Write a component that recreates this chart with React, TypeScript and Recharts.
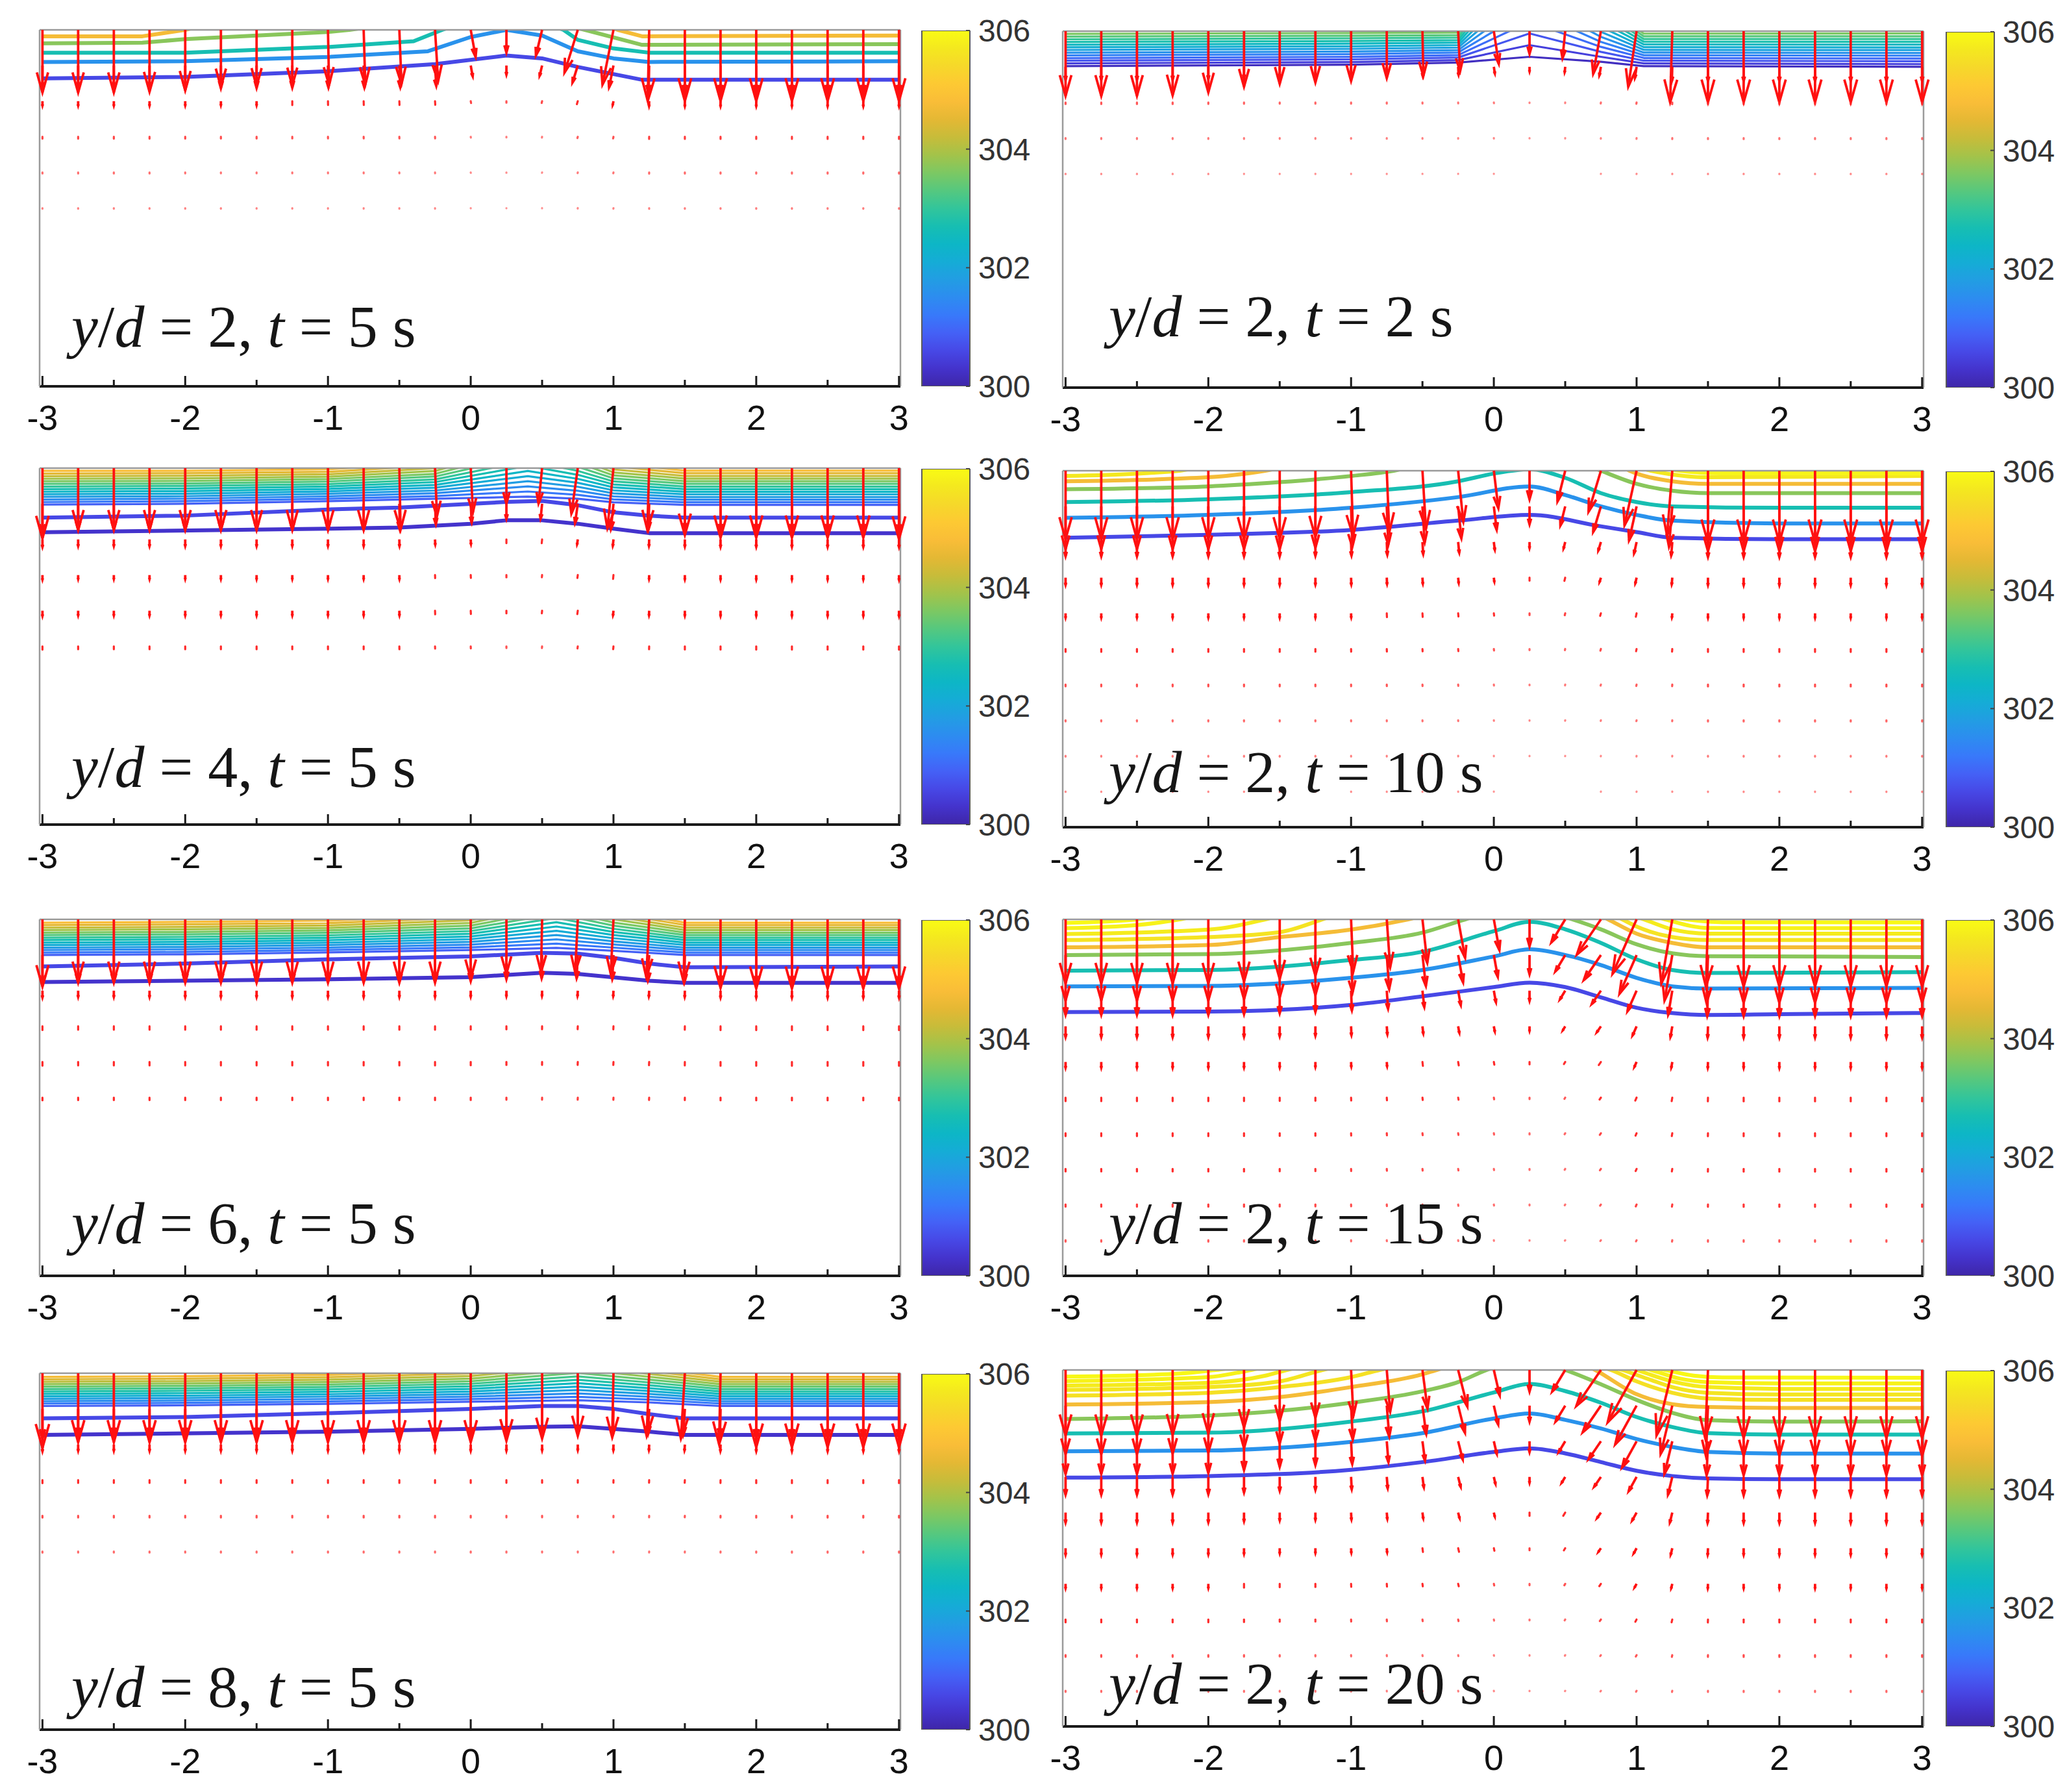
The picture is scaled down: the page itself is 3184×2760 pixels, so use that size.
import React from 'react';
import { ComposedChart, BarChart, Bar, Line, Scatter, XAxis, YAxis } from 'recharts';

// ---------- axes / ticks ----------
const X_TICKS = [-3, -2.5, -2, -1.5, -1, -0.5, 0, 0.5, 1, 1.5, 2, 2.5, 3];
const DEPTH_TICKS = [0.5, 1, 1.5, 2];
const CB_TICKS = [300, 302, 304, 306];
const CB_RANGE = [300, 306];

// quiver grid
const QX = [-3, -2.75, -2.5, -2.25, -2, -1.75, -1.5, -1.25, -1, -0.75, -0.5, -0.25, 0, 0.25, 0.5, 0.75, 1, 1.25, 1.5, 1.75, 2, 2.25, 2.5, 2.75, 3];
const QD = [0, 0.25, 0.5, 0.75, 1, 1.25, 1.5, 1.75, 2, 2.25];

// ---------- panel 1 : y/d = 2, t = 5 s ----------
const P1_LEVELS = [300.6, 301.6, 302.7, 303.7, 304.75];
const P1_LINES = [
  [-3, .34, -2, .33, -1, .29, -.25, .24, .25, .18, .5, .2, .75, .26, 1.2, .35, 3, .35],
  [-3, .225, -2, .22, -1, .19, -.3, .15, 0, .05, .25, 0, .5, .04, .75, .15, 1, .2, 1.25, .225, 3, .22],
  [-3, .16, -2, .16, -1, .12, -.4, .08, -.2, 0, .25, -.15, .65, 0, .75, .07, 1, .13, 1.25, .16, 3, .16],
  [-3, .095, -2.3, .09, -2, .065, -1, .015, -.85, 0, -.5, -.05, .6, -.05, .8, 0, 1.2, .105, 3, .1],
  [-3, .045, -2.3, .045, -2, 0, -1.8, -.05, .9, -.05, 1.03, 0, 1.2, .045, 3, .04],
];
const P1_ROW = [0.5, 0.2, 0.035, 0.015, 0.008, 0.005, 0, 0, 0, 0];
const P1_COL = [0.88, 0.88, 0.88, 0.87, 0.85, 0.8, 0.79, 0.78, 0.77, 0.77, 0.76, 0.72, 0.38, 0.32, 0.36, 0.6, 0.77, 1, 1, 1, 1, 1, 1, 1, 1];
const P1_TILT = [0, 0, 0, 0, 0, 0, 0, 0, 0.02, 0.03, 0.04, 0.06, 0.18, 0, -0.24, -0.31, -0.2, -0.02, 0, 0, 0, 0, 0, 0, 0];

// ---------- panel 2 : y/d = 2, t = 2 s ----------
const P2_LEVELS = [300.2, 300.48, 300.77, 301.05, 301.33, 301.62, 301.9, 302.18, 302.47, 302.75, 303.03, 303.32, 303.6];
const P2_KX = [-3, -1, -0.25, 0.25, 0.75, 1.05, 3];
const P2_BAND = [
  [.245, .235, .22, .18, .215, .245, .25],
  [.226, .217, .203, .098, .18, .226, .231],
  [.207, .198, .185, .016, .145, .207, .211],
  [.189, .18, .168, -.066, .11, .188, .192],
  [.17, .161, .15, -.148, .075, .169, .172],
  [.151, .143, .133, -.23, .04, .15, .153],
  [.132, .124, .115, -.31, .005, .131, .133],
  [.113, .106, .098, -.39, -.03, .112, .114],
  [.095, .087, .08, -.47, -.065, .093, .094],
  [.076, .069, .063, -.55, -.1, .074, .075],
  [.057, .05, .045, -.64, -.135, .055, .055],
  [.038, .032, .028, -.72, -.17, .036, .036],
  [.019, .013, .01, -.8, -.205, .017, .016],
];
const P2_ROW = [0.5, 0.1, 0.012, 0.007, 0.003, 0, 0, 0, 0, 0];
const P2_COL = [0.91, 0.91, 0.91, 0.9, 0.86, 0.78, 0.74, 0.72, 0.7, 0.66, 0.63, 0.56, 0.46, 0.32, 0.38, 0.6, 0.78, 1, 1, 1, 1, 1, 1, 1, 1];
const P2_TILT = [0, 0, 0, 0, 0, 0, 0, 0, 0, 0, 0.02, 0.05, 0.15, 0, -0.1, -0.18, -0.15, -0.03, 0, 0, 0, 0, 0, 0, 0];

// ---------- panel 3 : y/d = 4, t = 5 s ----------
const P3_DEEP_LEVELS = [300.3, 300.6];
const P3_DEEP = [
  [-3, .45, -1, .425, -.5, .417, 0, .39, .25, .366, .5, .366, .75, .39, 1, .425, 1.25, .456, 3, .456],
  [-3, .347, -2, .333, -1, .29, -.5, .277, .25, .237, .5, .23, .75, .26, 1, .31, 1.25, .334, 1.5, .347, 3, .347],
];
const P3_LEVELS = [300.9, 301.2, 301.5, 301.8, 302.1, 302.4, 302.7, 303.0, 303.3, 303.6, 303.9, 304.2, 304.5, 304.8];
const P3_KX = [-3, -2, -1, -0.25, 0.4, 0.75, 1.0, 1.5, 3];
const P3_BAND = [
  [.256, .25, .232, .215, .2, .215, .24, .258, .258],
  [.238, .232, .215, .196, .164, .187, .219, .24, .24],
  [.22, .214, .198, .176, .128, .159, .198, .221, .221],
  [.201, .197, .18, .157, .092, .131, .177, .203, .203],
  [.183, .179, .163, .137, .056, .103, .156, .184, .184],
  [.165, .161, .146, .118, .02, .075, .135, .166, .166],
  [.147, .143, .129, .098, -.016, .047, .114, .147, .147],
  [.129, .125, .112, .079, -.052, .019, .093, .129, .129],
  [.11, .108, .094, .059, -.088, -.009, .072, .11, .11],
  [.092, .09, .077, .04, -.124, -.037, .051, .092, .092],
  [.074, .072, .06, .02, -.16, -.065, .03, .073, .073],
  [.056, .054, .043, .001, -.196, -.093, .009, .055, .055],
  [.038, .036, .026, -.019, -.232, -.121, -.012, .036, .036],
  [.019, .019, .008, -.038, -.268, -.149, -.033, .018, .018],
];
const P3_ROW = [0.47, 0.2, 0.05, 0.03, 0.035, 0.022, 0, 0, 0, 0];
const P3_COL = [1.05, 0.92, 0.92, 0.92, 0.92, 0.92, 0.92, 0.92, 0.92, 0.92, 0.92, 0.72, 0.66, 0.53, 0.53, 0.68, 0.9, 0.92, 1, 1.04, 1.04, 1.04, 1.04, 1.04, 1.06];
const P3_TILT = [0, 0, 0, 0, 0, 0, 0, 0, 0, 0, 0.02, 0.04, 0.05, 0, -0.1, -0.14, -0.1, -0.03, 0, 0, 0, 0, 0, 0, 0];

// ---------- panel 4 : y/d = 2, t = 10 s ----------
const P4_LEVELS = [300.6, 301.6, 302.7, 303.7, 304.75, 305.7, 305.9];
const P4_LINES = [
  [-3, .47, -2, .45, -1, .415, -.25, .35, .25, .31, .75, .39, 1, .43, 1.25, .47, 2, .48, 3, .48],
  [-3, .33, -2, .31, -1, .26, -.25, .185, .25, .11, .5, .17, .75, .25, 1, .31, 1.25, .35, 2, .37, 3, .37],
  [-3, .22, -2, .2, -1, .15, -.25, .074, 0, .02, .25, -.01, .5, .05, .75, .157, 1, .22, 1.25, .25, 2, .26, 3, .26],
  [-3, .13, -2, .11, -1.5, .08, -1, .037, -.7, 0, -.3, -.1, .6, -.06, .75, 0, 1, .092, 1.25, .14, 1.5, .157, 3, .157],
  [-3, .074, -2, .046, -1.6, 0, -1.2, -.08, .8, -.08, .95, 0, 1.25, .074, 1.5, .092, 3, .092],
  [-3, .037, -2.5, .02, -2.2, 0, -1.9, -.05, .9, -.05, 1.1, 0, 1.5, .046, 3, .037],
  [1.1, -.04, 1.3, 0, 1.6, .018, 3, .018],
];
const P4_ROW = [0.48, 0.3, 0.1, 0.05, 0.03, 0.02, 0.012, 0.008, 0.005, 0.003];
const P4_COL = [1, 1, 1, 1, 1, 1, 1, 0.97, 0.95, 0.9, 0.85, 0.75, 0.55, 0.42, 0.45, 0.6, 0.8, 0.95, 1.05, 1.05, 1.05, 1.05, 1.05, 1.05, 1.05];
const P4_TILT = [0, 0, 0, 0, 0, 0, 0, 0, 0.03, 0.04, 0.06, 0.1, 0.12, 0, -0.25, -0.3, -0.22, -0.08, 0, 0, 0, 0, 0, 0, 0];

// ---------- panel 5 : y/d = 6, t = 5 s ----------
const P5_DEEP_LEVELS = [300.3, 300.6];
const P5_DEEP = [
  [-3, .44, -1, .42, 0, .405, .5, .375, .75, .383, 1, .406, 1.25, .43, 1.5, .445, 3, .445],
  [-3, .33, -2, .31, -1, .28, 0, .26, .5, .234, .75, .24, 1, .27, 1.25, .31, 1.5, .336, 3, .33],
];
const P5_LEVELS = [300.9, 301.2, 301.5, 301.8, 302.1, 302.4, 302.7, 303.0, 303.3, 303.6, 303.9, 304.2, 304.5, 304.8];
const P5_KX = [-3, -2, -1, 0, 0.6, 1.0, 1.5, 3];
const P5_BAND = [
  [.25, .245, .232, .215, .2, .22, .25, .25],
  [.233, .228, .215, .196, .17, .198, .233, .233],
  [.215, .21, .198, .177, .14, .176, .215, .215],
  [.198, .193, .18, .158, .11, .154, .198, .198],
  [.18, .175, .163, .139, .08, .132, .18, .18],
  [.163, .158, .146, .12, .05, .11, .163, .163],
  [.145, .14, .129, .101, .02, .088, .145, .145],
  [.128, .123, .112, .082, -.01, .066, .128, .128],
  [.11, .105, .094, .063, -.04, .044, .11, .11],
  [.093, .088, .077, .044, -.07, .022, .093, .093],
  [.075, .07, .06, .025, -.1, 0, .075, .075],
  [.058, .053, .043, .006, -.13, -.022, .058, .058],
  [.04, .035, .026, -.013, -.16, -.044, .04, .04],
  [.023, .018, .009, -.032, -.19, -.066, .023, .023],
];
const P5_ROW = [0.45, 0.2, 0.045, 0.025, 0.025, 0.018, 0, 0, 0, 0];
const P5_COL = [1.05, 0.97, 0.97, 0.97, 0.97, 0.97, 0.97, 0.97, 0.97, 0.97, 0.97, 0.97, 0.92, 0.85, 0.82, 0.82, 0.85, 0.9, 0.97, 1.07, 1.08, 1.08, 1.08, 1.08, 1.08];
const P5_TILT = [0, 0, 0, 0, 0, 0, 0, 0, 0, 0, 0, 0, 0, 0, -0.02, -0.05, -0.05, -0.05, -0.02, 0, 0, 0, 0, 0, 0];

// ---------- panel 6 : y/d = 2, t = 15 s ----------
const P6_LEVELS = [300.6, 301.6, 302.7, 303.7, 304.75, 305.6, 305.75, 305.85, 305.95];
const P6_LINES = [
  [-3, .65, -2, .647, -1, .6, -.5, .54, 0, .475, .25, .444, .5, .475, .75, .547, 1, .62, 1.25, .657, 1.5, .67, 2, .665, 3, .657],
  [-3, .47, -2, .467, -1, .41, -.5, .355, 0, .26, .25, .21, .5, .25, .75, .32, 1, .41, 1.25, .47, 1.5, .485, 3, .48],
  [-3, .36, -2, .355, -1, .285, -.5, .227, 0, .083, .25, .017, .5, .07, .75, .165, 1, .28, 1.25, .355, 1.5, .376, 3, .37],
  [-3, .25, -2, .244, -1, .165, -.5, .093, -.2, 0, .2, -.1, .55, 0, .75, .07, 1, .175, 1.25, .238, 1.5, .258, 3, .264],
  [-3, .196, -2, .18, -1.5, .124, -1, .072, -.6, 0, -.2, -.1, .6, -.1, .8, 0, 1, .1, 1.25, .165, 1.5, .196, 3, .196],
  [-3, .145, -2, .124, -1.5, .09, -1.2, 0, -.9, -.1, .7, -.1, .9, 0, 1, .05, 1.25, .124, 1.5, .145, 3, .145],
  [-3, .103, -2, .072, -1.6, 0, -1.3, -.08, .8, -.08, 1.05, 0, 1.25, .07, 1.5, .1, 3, .1],
  [-3, .062, -2.5, .04, -2.2, 0, -1.9, -.06, 1, -.06, 1.2, 0, 1.5, .06, 3, .062],
  [-3, .025, -2.5, 0, -2.2, -.04, 1.1, -.04, 1.35, 0, 1.6, .02, 3, .022],
];
const P6_ROW = [0.45, 0.32, 0.17, 0.075, 0.04, 0.025, 0.02, 0.018, 0.015, 0.01];
const P6_COL = [1, 1, 1, 1, 1, 0.97, 0.93, 0.88, 0.82, 0.75, 0.68, 0.6, 0.48, 0.42, 0.36, 0.55, 0.85, 1, 1.05, 1.05, 1.05, 1.05, 1.05, 1.05, 1.05];
const P6_TILT = [0, 0, 0, 0, 0, 0, 0, 0, 0.04, 0.07, 0.11, 0.18, 0.18, 0, -0.6, -0.68, -0.44, -0.17, -0.03, 0, 0, 0, 0, 0, 0];

// ---------- panel 7 : y/d = 8, t = 5 s ----------
const P7_DEEP_LEVELS = [300.3, 300.6];
const P7_DEEP = [
  [-3, .433, -1, .41, 0, .39, .5, .376, .75, .372, 1, .39, 1.25, .41, 1.5, .433, 3, .433],
  [-3, .317, -2, .307, -1, .28, 0, .25, .5, .23, .75, .23, 1, .25, 1.25, .287, 1.5, .317, 3, .317],
];
const P7_LEVELS = [300.9, 301.22, 301.54, 301.86, 302.18, 302.5, 302.82, 303.14, 303.46, 303.78, 304.1, 304.42, 304.74];
const P7_KX = [-3, -2, -1, 0, 0.75, 1.25, 1.75, 3];
const P7_BAND = [
  [.23, .225, .215, .2, .19, .205, .23, .23],
  [.213, .208, .198, .182, .166, .185, .213, .213],
  [.196, .191, .181, .164, .142, .165, .196, .196],
  [.179, .174, .164, .146, .118, .145, .179, .179],
  [.162, .157, .147, .128, .094, .125, .162, .162],
  [.145, .14, .13, .11, .07, .105, .145, .145],
  [.128, .123, .113, .092, .046, .085, .128, .128],
  [.111, .106, .096, .074, .022, .065, .111, .111],
  [.094, .089, .079, .056, -.002, .045, .094, .094],
  [.077, .072, .062, .038, -.026, .025, .077, .077],
  [.06, .055, .045, .02, -.05, .005, .06, .06],
  [.043, .038, .028, .002, -.074, -.015, .043, .043],
  [.026, .021, .011, -.016, -.098, -.035, .026, .026],
];
const P7_ROW = [0.5, 0.2, 0.045, 0.02, 0.012, 0.008, 0, 0, 0, 0];
const P7_COL = [1.05, 0.97, 0.97, 0.97, 0.97, 0.97, 0.97, 0.97, 0.97, 0.97, 0.97, 0.97, 0.97, 0.95, 0.92, 0.88, 0.9, 0.88, 0.92, 1, 1.04, 1.04, 1.04, 1.04, 1.04];
const P7_TILT = [0, 0, 0, 0, 0, 0, 0, 0, 0, 0, 0, 0, 0, 0, 0, 0, -0.02, -0.04, -0.06, -0.02, 0, 0, 0, 0, 0];

// ---------- panel 8 : y/d = 2, t = 20 s ----------
const P8_LEVELS = [300.6, 301.6, 302.7, 303.7, 304.75, 305.55, 305.65, 305.75, 305.85, 305.95];
const P8_LINES = [
  [-3, .755, -2, .744, -1, .7, -.5, .646, 0, .575, .25, .55, .5, .585, .75, .646, 1, .707, 1.25, .744, 1.5, .76, 2, .766, 3, .766],
  [-3, .57, -2, .565, -1, .504, -.5, .443, 0, .34, .25, .305, .5, .35, .75, .41, 1, .484, 1.25, .54, 1.5, .575, 2, .586, 3, .586],
  [-3, .445, -2, .44, -1, .362, -.5, .29, 0, .158, .25, .098, .5, .148, .75, .23, 1, .33, 1.25, .4, 1.5, .443, 2, .453, 3, .453],
  [-3, .344, -2, .32, -1, .23, -.5, .15, -.25, .085, -.05, 0, .25, -.08, .5, 0, .75, .1, 1, .21, 1.25, .3, 1.5, .352, 2, .362, 3, .36],
  [-3, .242, -2, .225, -1.5, .19, -1, .12, -.5, .03, -.4, 0, 0, -.1, .5, -.1, .71, 0, 1, .17, 1.25, .24, 1.5, .26, 2, .266, 3, .266],
  [-3, .18, -2, .16, -1.5, .12, -1, .05, -.8, 0, -.5, -.06, .6, -.06, .82, 0, 1, .08, 1.25, .16, 1.5, .2, 2, .21, 3, .21],
  [-3, .14, -2, .12, -1.5, .08, -1.2, 0, -.9, -.06, .7, -.06, .9, 0, 1.1, .07, 1.25, .12, 1.5, .16, 2, .172, 3, .172],
  [-3, .11, -2, .09, -1.6, .04, -1.45, 0, -1.2, -.05, .85, -.05, 1, 0, 1.25, .08, 1.5, .12, 2, .133, 3, .133],
  [-3, .078, -2, .05, -1.8, .02, -1.7, 0, -1.5, -.04, .95, -.04, 1.1, 0, 1.3, .06, 1.5, .085, 2, .094, 3, .094],
  [-3, .047, -2.2, .025, -1.95, 0, -1.7, -.03, 1.05, -.03, 1.2, 0, 1.4, .04, 1.6, .052, 3, .055],
];
const P8_ROW = [0.46, 0.34, 0.23, 0.125, 0.07, 0.045, 0.03, 0.02, 0.012, 0.008];
const P8_COL = [1, 1, 1, 0.99, 0.97, 0.88, 0.78, 0.73, 0.7, 0.64, 0.59, 0.56, 0.39, 0.33, 0.33, 0.55, 0.8, 1, 1.04, 1.04, 1.04, 1.04, 1.04, 1.04, 1.04];
const P8_TILT = [0, 0, 0, 0, 0, 0, 0, 0, 0.05, 0.08, 0.13, 0.25, 0.23, 0, -0.6, -0.68, -0.55, -0.24, -0.04, 0, 0, 0, 0, 0, 0];

// ---------- colormap (parula-like) ----------
const PARULA: [number, string][] = [
  [0.0, '#3e26a8'], [0.05, '#4433cc'], [0.1, '#4748e6'], [0.15, '#4461f6'], [0.2, '#3879fa'],
  [0.25, '#2d8cf0'], [0.3, '#229de3'], [0.35, '#15acd6'], [0.4, '#0db6c6'], [0.45, '#17beb2'],
  [0.5, '#32c59b'], [0.55, '#55c87f'], [0.6, '#7cc863'], [0.65, '#a3c34a'], [0.7, '#c7bc3a'],
  [0.75, '#e4b834'], [0.8, '#f9bd38'], [0.85, '#fdc933'], [0.9, '#f6d82a'], [0.95, '#f4e81f'],
  [1.0, '#f9fb14'],
];
const hexRgb = (h: string) => [parseInt(h.slice(1, 3), 16), parseInt(h.slice(3, 5), 16), parseInt(h.slice(5, 7), 16)];
function levelColor(level: number) {
  const t = Math.max(0, Math.min(1, (level - CB_RANGE[0]) / (CB_RANGE[1] - CB_RANGE[0])));
  for (let i = 0; i < PARULA.length - 1; i++) {
    const [t0, c0] = PARULA[i];
    const [t1, c1] = PARULA[i + 1];
    if (t <= t1) {
      const f = (t - t0) / (t1 - t0);
      const a = hexRgb(c0), b = hexRgb(c1);
      const m = a.map((v, k) => Math.round(v + (b[k] - v) * f));
      return `rgb(${m[0]},${m[1]},${m[2]})`;
    }
  }
  return PARULA[PARULA.length - 1][1];
}

// ---------- layout (pixels) ----------
const ML = 60, MR = 30, MT = 10, MB = 90;
const AX = 1; // tiny axis band so every axis is rendered
const PW = 1326, PH = 548;
const X_DOMAIN: [number, number] = [-3.02, 3.01];
const Y_DOMAIN: [number, number] = [0, 2.5];
const PPU_X = PW / (X_DOMAIN[1] - X_DOMAIN[0]);
const PPU_Y = PH / (Y_DOMAIN[1] - Y_DOMAIN[0]);
const SANS = '"Liberation Sans", Arial, Helvetica, sans-serif';
const SANS_NARROW = '"Liberation Sans Narrow", "Arial Narrow", "Liberation Sans", Arial, sans-serif';
const SERIF = '"Liberation Serif", "Times New Roman", Times, serif';

const pairs = (flat: number[]) => {
  const out: { x: number; d: number }[] = [];
  for (let i = 0; i < flat.length; i += 2) out.push({ x: flat[i], d: flat[i + 1] });
  return out;
};
const onKnots = (kx: number[], ds: number[]) => kx.map((x, i) => ({ x, d: ds[i] }));
const arrows = (row: number[], col: number[], tilt: number[]) =>
  QD.flatMap((d, r) => QX.map((x, c) => ({ x, d, len: row[r] * col[c], tilt: tilt[c] })));

type Series = { pts: { x: number; d: number }[]; level: number; w: number };
type PanelDef = {
  key: string; left: number; top: number; yd: number; t: number; curve: 'linear' | 'monotone';
  series: Series[]; quiver: { x: number; d: number; len: number; tilt: number }[]; labelTop: number;
};

const sparse = (lines: number[][], levels: number[]): Series[] =>
  lines.map((l, i) => ({ pts: pairs(l), level: levels[i], w: 6 }));
const dense = (deep: number[][], deepLevels: number[], kx: number[], band: number[][], levels: number[]): Series[] => [
  ...deep.map((l, i) => ({ pts: pairs(l), level: deepLevels[i], w: 6 })),
  ...band.map((b, i) => ({ pts: onKnots(kx, b), level: levels[i], w: 3.2 })),
];

const LEFT_COL = 61, RIGHT_COL = 1637;
const CB_LEFT = [1420, 2998];
const CB_W = 74;

const PANELS: PanelDef[] = [
  { key: 'p1', left: LEFT_COL, top: 47, yd: 2, t: 5, curve: 'linear', series: sparse(P1_LINES, P1_LEVELS), quiver: arrows(P1_ROW, P1_COL, P1_TILT), labelTop: 457 },
  { key: 'p3', left: LEFT_COL, top: 722, yd: 4, t: 5, curve: 'linear', series: dense(P3_DEEP, P3_DEEP_LEVELS, P3_KX, P3_BAND, P3_LEVELS), quiver: arrows(P3_ROW, P3_COL, P3_TILT), labelTop: 1135 },
  { key: 'p5', left: LEFT_COL, top: 1417, yd: 6, t: 5, curve: 'linear', series: dense(P5_DEEP, P5_DEEP_LEVELS, P5_KX, P5_BAND, P5_LEVELS), quiver: arrows(P5_ROW, P5_COL, P5_TILT), labelTop: 1838 },
  { key: 'p7', left: LEFT_COL, top: 2116, yd: 8, t: 5, curve: 'linear', series: dense(P7_DEEP, P7_DEEP_LEVELS, P7_KX, P7_BAND, P7_LEVELS), quiver: arrows(P7_ROW, P7_COL, P7_TILT), labelTop: 2552 },
  { key: 'p2', left: RIGHT_COL, top: 49, yd: 2, t: 2, curve: 'linear', series: dense([], [], P2_KX, P2_BAND, P2_LEVELS), quiver: arrows(P2_ROW, P2_COL, P2_TILT), labelTop: 441 },
  { key: 'p4', left: RIGHT_COL, top: 726, yd: 2, t: 10, curve: 'monotone', series: sparse(P4_LINES, P4_LEVELS), quiver: arrows(P4_ROW, P4_COL, P4_TILT), labelTop: 1143 },
  { key: 'p6', left: RIGHT_COL, top: 1417, yd: 2, t: 15, curve: 'monotone', series: sparse(P6_LINES, P6_LEVELS), quiver: arrows(P6_ROW, P6_COL, P6_TILT), labelTop: 1838 },
  { key: 'p8', left: RIGHT_COL, top: 2111, yd: 2, t: 20, curve: 'monotone', series: sparse(P8_LINES, P8_LEVELS), quiver: arrows(P8_ROW, P8_COL, P8_TILT), labelTop: 2547 },
];

// ---------- shapes ----------
function Arrow(props: any) {
  const { cx, cy, payload } = props;
  if (cx == null || cy == null || !payload) return <g />;
  const dy = payload.len * PPU_Y;
  if (!(dy > 0.3)) return <g />;
  const dx = payload.tilt * payload.len * PPU_X;
  const L = Math.hypot(dx, dy);
  const tx = cx + dx, ty = cy + dy;
  if (L < 6) {
    return (
      <line x1={cx} y1={cy} x2={tx} y2={ty} stroke="#ff2a2a" strokeWidth={3.2} strokeLinecap="round"
        opacity={Math.min(1, 0.45 + L / 7)} />
    );
  }
  const ux = dx / L, uy = dy / L;
  const hl = 0.32 * L, hw = 0.09 * L;
  const bx = tx - ux * hl, by = ty - uy * hl;
  const p1 = `${bx - uy * hw},${by + ux * hw}`;
  const p2 = `${bx + uy * hw},${by - ux * hw}`;
  return (
    <g stroke="#ff1010" strokeWidth={3.8} fill="none" strokeLinejoin="miter">
      <line x1={cx} y1={cy} x2={tx} y2={ty} />
      <polyline points={`${p1} ${tx},${ty} ${p2}`} />
    </g>
  );
}

function XTick(props: any) {
  const { x, y, payload } = props;
  const v = payload.value;
  const major = Number.isInteger(v);
  return (
    <g>
      <line x1={x} y1={y} x2={x} y2={y - (major ? 16 : 10)} stroke="#1a1a1a" strokeWidth={3} />
      {major && (
        <text x={x} y={y + 67} textAnchor="middle" fontSize={54} fontFamily={SANS} fill="#111">{String(v)}</text>
      )}
    </g>
  );
}

function Panel({ p }: { p: PanelDef }) {
  return (
    <div style={{ position: 'absolute', left: p.left - ML, top: p.top - MT }}>
      <ComposedChart width={ML + PW + MR} height={MT + PH + MB}
        margin={{ top: MT - AX, right: MR - AX, bottom: MB - AX, left: ML - AX }}>
        <XAxis xAxisId="b" dataKey="x" type="number" domain={X_DOMAIN} ticks={X_TICKS} interval={0} height={AX}
          tickLine={false} tickSize={0} tickMargin={0} axisLine={{ stroke: '#1a1a1a', strokeWidth: 4 }}
          tick={(tp: any) => <XTick {...tp} />} />
        <XAxis xAxisId="t" orientation="top" dataKey="x" type="number" domain={X_DOMAIN} height={AX}
          ticks={X_TICKS} tick={false} tickLine={false} mirror axisLine={{ stroke: '#9a9a9a', strokeWidth: 2.5 }} />
        <YAxis yAxisId="c" dataKey="d" type="number" domain={Y_DOMAIN} reversed allowDataOverflow width={AX}
          ticks={DEPTH_TICKS} interval={0} tick={false} tickSize={-8}
          axisLine={{ stroke: '#9a9a9a', strokeWidth: 2.5 }} tickLine={{ stroke: '#777', strokeWidth: 2 }} />
        <YAxis yAxisId="q" dataKey="d" orientation="right" type="number" domain={Y_DOMAIN} reversed width={AX}
          ticks={DEPTH_TICKS} interval={0} tick={false} tickSize={-8}
          axisLine={{ stroke: '#9a9a9a', strokeWidth: 2.5 }} tickLine={{ stroke: '#777', strokeWidth: 2 }} />
        {p.series.map((s, i) => (
          <Line key={`${p.key}-l${i}`} xAxisId="b" yAxisId="c" data={s.pts} dataKey="d" type={p.curve}
            stroke={levelColor(s.level)} strokeWidth={s.w} dot={false} activeDot={false}
            strokeLinejoin="round" isAnimationActive={false} />
        ))}
        <Scatter xAxisId="b" yAxisId="q" data={p.quiver} shape={(sp: any) => <Arrow {...sp} />} isAnimationActive={false} />
      </ComposedChart>
    </div>
  );
}

function Colorbar({ id, left, top }: { id: string; left: number; top: number }) {
  const data = [{ k: 'T', range: CB_RANGE }];
  return (
    <div style={{ position: 'absolute', left: left - 10, top: top - 30 }}>
      <BarChart width={10 + CB_W + 110} height={30 + PH + 30} data={data}
        margin={{ top: 30, right: 110 - AX, bottom: 30, left: 10 }} barCategoryGap={0}>
        <defs>
          <linearGradient id={id} x1="0" y1="1" x2="0" y2="0">
            {PARULA.map(([t, c]) => <stop key={t} offset={t} stopColor={c} />)}
          </linearGradient>
        </defs>
        <XAxis dataKey="k" hide />
        <YAxis orientation="right" type="number" domain={CB_RANGE} allowDataOverflow ticks={CB_TICKS} interval={0}
          width={AX} tickSize={-6} tickMargin={19} axisLine={false} tickLine={{ stroke: '#444', strokeWidth: 2 }}
          tick={{ fontSize: 48, fill: '#333', fontFamily: SANS_NARROW }} />
        <Bar dataKey="range" fill={`url(#${id})`} stroke="#5a5a5a" strokeWidth={2} isAnimationActive={false} />
      </BarChart>
    </div>
  );
}

function PanelLabel({ p }: { p: PanelDef }) {
  const left = p.left === LEFT_COL ? 110 : 1708;
  return (
    <div style={{ position: 'absolute', left, top: p.labelTop, fontFamily: SERIF, fontSize: 92, lineHeight: '92px', color: '#161616', whiteSpace: 'nowrap' }}>
      <i>y</i>/<i>d</i> = {p.yd}, <i>t</i> = {p.t} s
    </div>
  );
}

export default function App() {
  return (
    <div style={{ position: 'absolute', left: 0, top: 0, width: 3184, height: 2760, background: '#fff', overflow: 'hidden' }}>
      {PANELS.map((p) => <Panel key={p.key} p={p} />)}
      {PANELS.map((p, i) => (
        <Colorbar key={`cb-${p.key}`} id={`cbgrad${i}`} left={p.left === LEFT_COL ? CB_LEFT[0] : CB_LEFT[1]} top={p.top} />
      ))}
      {PANELS.map((p) => <PanelLabel key={`lb-${p.key}`} p={p} />)}
    </div>
  );
}
